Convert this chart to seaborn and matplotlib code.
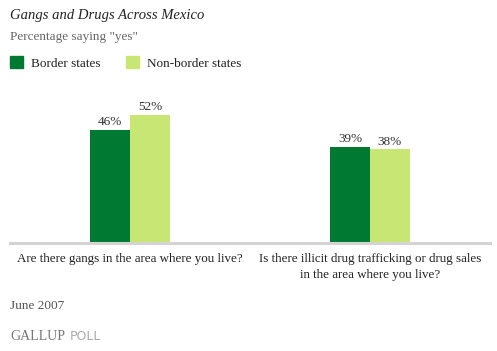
import pandas as pd
import matplotlib.pyplot as plt
import seaborn as sns

# data
questions = ['Are there gangs in the area where you live?',
             'Is there illicit drug trafficking or drug sales\nin the area where you live?']
groups = ['Border states', 'Non-border states']
border = [46, 39]
non_border = [52, 38]

df = pd.DataFrame({
    'question': questions * 2,
    'group': [groups[0]] * 2 + [groups[1]] * 2,
    'pct': border + non_border,
})

sns.set_theme(style='white')
plt.rcParams['font.family'] = ['Liberation Serif', 'DejaVu Serif']

colors = ['#007A33', '#C8E673']

fig = plt.figure(figsize=(4.97, 3.51), dpi=100)
ax = fig.add_axes([10 / 497, (351 - 243) / 351, 480 / 497, 148 / 351])

sns.barplot(data=df, x='question', y='pct', hue='group', palette=colors,
            saturation=1, width=1 / 3, ax=ax, legend=False, linewidth=0)

for cont in ax.containers:
    ax.bar_label(cont, fmt='%d%%', padding=1, fontsize=9.5, color='#333333')

ax.set_ylim(0, 60)
ax.set_xlim(-0.5, 1.5)
ax.set_yticks([])
ax.set_xlabel('')
ax.set_ylabel('')
for s in ['top', 'left', 'right']:
    ax.spines[s].set_visible(False)
ax.spines['bottom'].set_color('#d4d4d4')
ax.spines['bottom'].set_linewidth(2.2)
ax.tick_params(axis='x', length=0, pad=7, labelsize=9.4, labelcolor='#222222')
for lbl in ax.get_xticklabels():
    lbl.set_verticalalignment('top')
    lbl.set_linespacing(1.45)

# legend
handles = [plt.Rectangle((0, 0), 1, 1, color=c) for c in colors]
fig.legend(handles, groups, loc='center left', bbox_to_anchor=(-2 / 497, 1 - 63 / 351),
           ncol=2, frameon=False, fontsize=9.5, handlelength=1.0, handleheight=1.0,
           handletextpad=0.6, columnspacing=1.9, labelcolor='#222222')

# titles and notes
fig.text(10 / 497, 1 - 15 / 351, 'Gangs and Drugs Across Mexico', fontsize=10.5,
         style='italic', color='#222222', va='center')
fig.text(10 / 497, 1 - 37 / 351, 'Percentage saying "yes"', fontsize=9.5,
         color='#666666', va='center')
fig.text(10 / 497, 1 - 306 / 351, 'June 2007', fontsize=9.5, color='#555555', va='center')
fig.text(10 / 497, 1 - 337 / 351, 'GALLUP', fontsize=10, color='#777777', va='center')
fig.text(70 / 497, 1 - 337 / 351, 'POLL', fontsize=9, color='#aaaaaa', va='center',
         family='DejaVu Sans')

fig.savefig('out.png', dpi=100)
